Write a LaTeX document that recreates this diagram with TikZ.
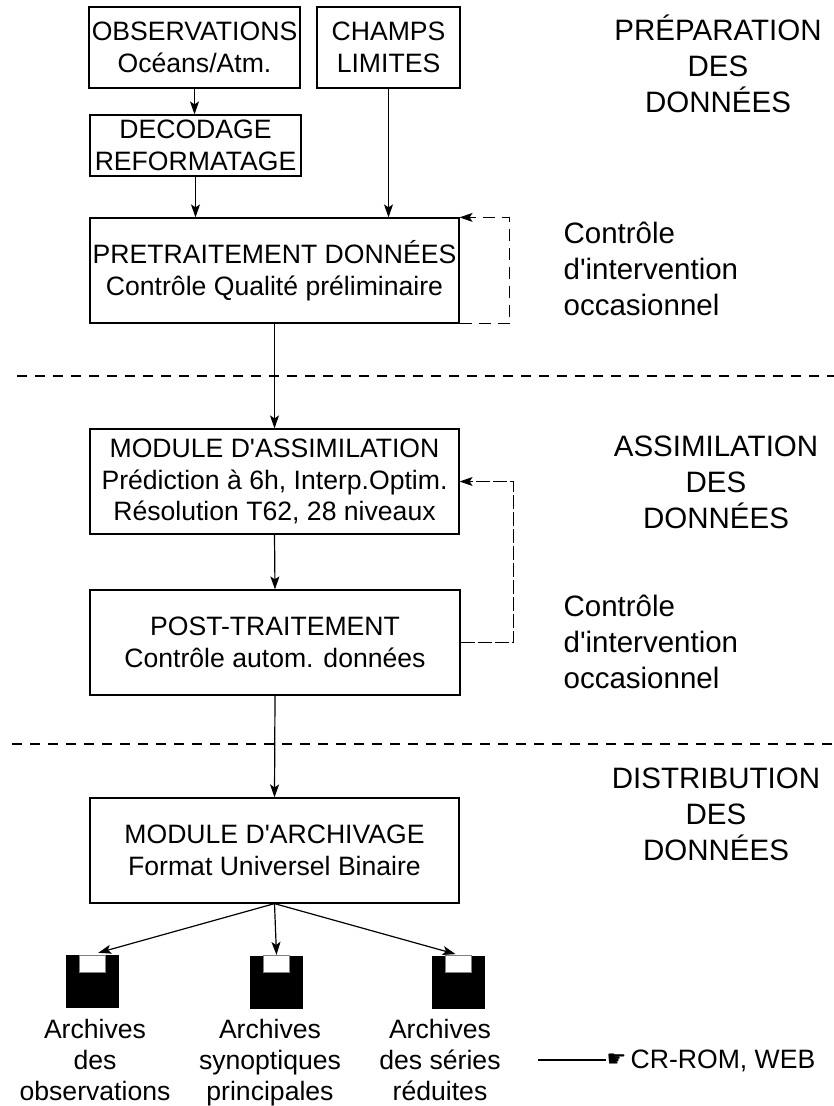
\documentclass[tikz,border=0pt]{standalone}
\usepackage{fontspec}
\setmainfont{Liberation Sans}[Ligatures=TeXOff]
\newfontfamily\handfont{DejaVu Sans}
\usetikzlibrary{arrows.meta}

\begin{document}
\begin{tikzpicture}[x=1pt,y=-1pt,line width=1.2pt,
		box/.style={draw,align=center,inner sep=0pt,font=\fontsize{26.6}{31.5}\selectfont},
		lbl/.style={align=center,inner sep=0pt,font=\fontsize{26.6}{31}\selectfont},
		side/.style={inner sep=0pt,font=\fontsize{29.5}{36}\selectfont},
		arr/.style={-{Stealth[length=13pt,width=9pt,inset=3pt]}},
		sep/.style={dash pattern=on 10pt off 8pt},
		disk/.style={fill=black,minimum size=53pt,inner sep=0pt,
			path picture={\fill[white,draw=gray,line width=0.6pt] ([xshift=-13pt]path picture bounding box.north) rectangle ([xshift=13pt,yshift=-17pt]path picture bounding box.north);}}]
		\useasboundingbox (0,0) rectangle (834,1106);
		% preparation
		\node[box,minimum width=211pt,minimum height=81pt] (obs) at (194.5,47.5) {OBSERVATIONS\\Océans/Atm.};
		\node[box,minimum width=143pt,minimum height=81pt] (chp) at (388.5,47.5) {CHAMPS\\LIMITES};
		\node[box,minimum width=211pt,minimum height=61pt] (dec) at (195.5,145.5) {DECODAGE\\REFORMATAGE};
		\node[box,minimum width=369pt,minimum height=105pt] (pre) at (274.5,270.5) {PRETRAITEMENT DONNÉES\\Contrôle Qualité préliminaire};
		\draw[arr] (obs.south) -- (obs.south |- dec.north);
		\draw[arr] (dec.south) -- (dec.south |- pre.north);
		\draw[arr] (chp.south) -- (chp.south |- pre.north);
		\draw[arr,dash pattern=on 12pt off 7pt] (pre.south east) -- ++(50,0) |- (pre.north east);
		\draw[sep] (17,376) -- (834,376);
		% assimilation
		\node[box,minimum width=369pt,minimum height=105pt] (assim) at (274.5,481.5) {MODULE D'ASSIMILATION\\Prédiction à 6h, Interp.Optim.\\Résolution T62, 28 niveaux};
		\node[box,minimum width=370pt,minimum height=105pt] (post) at (275,642.5) {POST-TRAITEMENT\\Contrôle autom. données};
		\draw[arr] (pre.south) -- (assim.north);
		\draw[arr] (assim.south) -- (post.north);
		\draw[arr,dash pattern=on 14pt off 3pt] (post.east) -- ++(53,0) |- (assim.east);
		\draw[sep] (12,744) -- (834,744);
		% distribution
		\node[box,minimum width=369pt,minimum height=105pt] (arch) at (274.5,850.5) {MODULE D'ARCHIVAGE\\Format Universel Binaire};
		\draw[arr] (post.south) -- (arch.north);
		\node[disk] (d1) at (92.5,981.5) {};
		\node[disk] (d2) at (276.5,982) {};
		\node[disk] (d3) at (458.5,982) {};
		\draw[arr,shorten >=6pt] (arch.south) -- (d1.north);
		\draw[arr] (arch.south) -- (d2.north);
		\draw[arr,shorten >=3pt] (arch.south) -- (d3.north);
		\node[lbl,anchor=north] (l1) at (95,1019) {Archives\\des\\observations};
		\node[lbl,anchor=north] (l2) at (270,1019) {Archives\\synoptiques\\principales};
		\node[lbl,anchor=north] (l3) at (440,1019) {Archives\\des séries\\réduites};
		\node[lbl,anchor=base west] (web) at (630,1068) {CR-ROM, WEB};
		\node[inner sep=0pt,anchor=east,font=\handfont\fontsize{22}{22}\selectfont] (hand) at (627,1060) {☛};
		\coordinate (wbeg) at (538,1060);
		\draw (wbeg) -- (hand.west);
		% labels on the right
		\node[side,align=center,anchor=north] (prep) at (718,14) {PRÉPARATION\\DES\\DONNÉES};
		\node[side,align=left,anchor=north west] (ctl1) at (563,221.5) {Contrôle\\d'intervention\\occasionnel};
		\node[side,align=center,anchor=north] (assl) at (716,435.5) {ASSIMILATION\\DES\\DONNÉES};
		\node[side,align=left,anchor=north west] (ctl2) at (563,594.5) {Contrôle\\d'intervention\\occasionnel};
		\node[side,align=center,anchor=north] (dist) at (716,767.5) {DISTRIBUTION\\DES\\DONNÉES};
	\end{tikzpicture}
\end{document}
